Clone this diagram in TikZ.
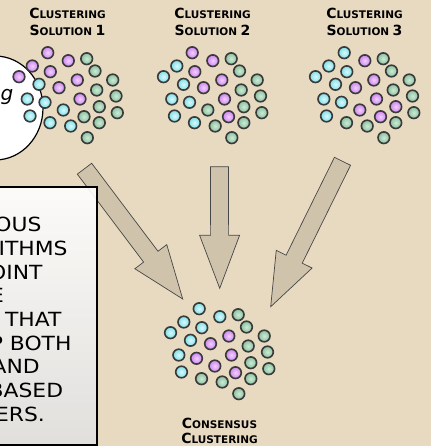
\documentclass[tikz,border=0pt]{standalone}
\usepackage{fontspec}
\setmainfont{DejaVu Sans}
\usetikzlibrary{calc}
\definecolor{bgc}{RGB}{232,218,193}
\definecolor{arrowfill}{RGB}{207,195,172}
\definecolor{arrowline}{RGB}{70,70,70}
\definecolor{ballline}{RGB}{58,58,58}
\definecolor{cI}{RGB}{216,250,252}
\definecolor{cO}{RGB}{128,222,230}
\definecolor{pI}{RGB}{242,208,252}
\definecolor{pO}{RGB}{205,134,238}
\definecolor{gI}{RGB}{206,234,214}
\definecolor{gO}{RGB}{138,192,158}
\tikzset{
  ballC/.style={draw=ballline, line width=1.6pt, inner color=cI, outer color=cO},
  ballP/.style={draw=ballline, line width=1.6pt, inner color=pI, outer color=pO},
  ballG/.style={draw=ballline, line width=1.6pt, inner color=gI, outer color=gO},
  titletext/.style={inner sep=0pt, font=\bfseries, anchor=base},
  boxtext/.style={inner sep=0pt, font=\fontsize{19.5}{19.5}\selectfont, anchor=base east},
  arrowshape/.style={fill=arrowfill, draw=arrowline, line width=0.7pt, line join=miter},
  bubble/.style={fill=white, draw=black, line width=1.2pt},
}
\def\LX{{47.7,32.3,68.3,86.7,50.3,19,39,95,77.3,112.7,59,27.3,96.7,116,45,80,30,63.3,99.3,117.3,50,70.7,84,99.3,87.3}}
\def\LY{{52.7,66,60.7,58.7,71.7,76.7,84.3,71,80,80,87.7,99,90,96,102.3,99,116,110,106.7,112.7,122.7,126,116.7,122.7,137.7}}
\newcommand\ballcluster[3]{%
  \foreach \c [count=\i from 0] in {#3}{%
    \pgfmathsetmacro\bx{#1+\LX[\i]}%
    \pgfmathsetmacro\by{#2+\LY[\i]}%
    \shade[ball\c] (\bx,\by) circle (5.8pt);
  }}
\newcommand\scword[2]{{\fontsize{14}{14}\selectfont #1}{\fontsize{10.5}{10.5}\selectfont #2}}
\newcommand\bigch[1]{{\fontsize{14}{14}\selectfont #1}}
\newcommand\wideline[1]{\scalebox{1.12}[1]{#1}}
\newcommand\blockarrow[2]{%
  \coordinate (#1b) at ($(#2)!53pt!(#1)$);
  \path[arrowshape] ($(#1)!9pt!90:(#2)$) -- ($(#1b)!9pt!90:(#2)$) -- ($(#1b)!20pt!90:(#2)$)
    -- (#2) -- ($(#1b)!20pt!-90:(#2)$) -- ($(#1b)!9pt!-90:(#2)$) -- ($(#1)!9pt!-90:(#2)$) -- cycle;
}
\begin{document}
\begin{tikzpicture}[x=1pt,y=-1pt]
\useasboundingbox (0,0) rectangle (431,446);
\fill[bgc] (0,0) rectangle (431,446);
\clip (0,0) rectangle (431,446);

% speech bubble
\draw[bubble] (-5,108) ellipse [x radius=48pt, y radius=52pt];
\node[inner sep=0pt, anchor=base east, font=\itshape\fontsize{20}{20}\selectfont] (gtext) at (13.5,101) {g};

% clusters
\ballcluster{0}{0}{P,P,P,G,P,P,C,G,P,G,P,C,G,G,C,P,C,C,G,G,C,C,G,G,G}
\ballcluster{144.5}{0}{P,C,P,G,P,C,C,G,P,G,P,C,G,G,C,P,C,G,G,G,C,G,P,G,G}
\ballcluster{296.5}{0}{C,C,P,G,C,C,C,G,P,G,P,C,G,G,C,P,C,P,P,G,G,G,P,G,G}
\ballcluster{151.5}{256}{C,C,C,G,C,C,C,G,P,G,P,C,G,G,P,P,C,P,G,G,G,G,P,G,G}

% titles
\node[titletext] (t1a) at (67.5,19) {\scword{C}{LUSTERING}};
\node[titletext] (t1b) at (67.5,36) {\scword{S}{OLUTION} \bigch{1}};
\node[titletext] (t2a) at (212.5,19) {\scword{C}{LUSTERING}};
\node[titletext] (t2b) at (212.5,36) {\scword{S}{OLUTION} \bigch{2}};
\node[titletext] (t3a) at (364.5,19) {\scword{C}{LUSTERING}};
\node[titletext] (t3b) at (364.5,36) {\scword{S}{OLUTION} \bigch{3}};
\node[titletext] (tca) at (219.5,428.3) {\scword{C}{ONSENSUS}};
\node[titletext] (tcb) at (219.5,443.3) {\scword{C}{LUSTERING}};

% arrows
\coordinate (a1s) at (84.5,168.7);
\coordinate (a1t) at (182.7,299);
\coordinate (a2s) at (219.5,166.7);
\coordinate (a2t) at (219.7,288.3);
\coordinate (a3s) at (342.5,161.3);
\coordinate (a3t) at (270.7,306.7);
\blockarrow{a1s}{a1t}
\blockarrow{a2s}{a2t}
\blockarrow{a3s}{a3t}

% text box
\shade[top color=white, bottom color=black!12, fill opacity=0.9] (-20,186.7) rectangle (96.7,444.5);
\draw[line width=2pt] (-20,186.7) rectangle (96.7,444.5);
\node[boxtext] (l1) at (41.7,231.7) {\wideline{OUS}};
\node[boxtext] (l2) at (67.7,255.4) {\wideline{ITHMS}};
\node[boxtext] (l3) at (42.7,279.1) {\wideline{OINT}};
\node[boxtext] (l4) at (4,302.8) {\wideline{E}};
\node[boxtext] (l5) at (61.7,326.5) {\wideline{THAT}};
\node[boxtext] (l6) at (71.7,350.2) {\wideline{P BOTH}};
\node[boxtext] (l7) at (40,373.9) {\wideline{AND}};
\node[boxtext] (l8) at (63.3,397.6) {\wideline{BASED}};
\node[boxtext] (l9) at (45,421.3) {\wideline{ERS.}};
\end{tikzpicture}
\end{document}
